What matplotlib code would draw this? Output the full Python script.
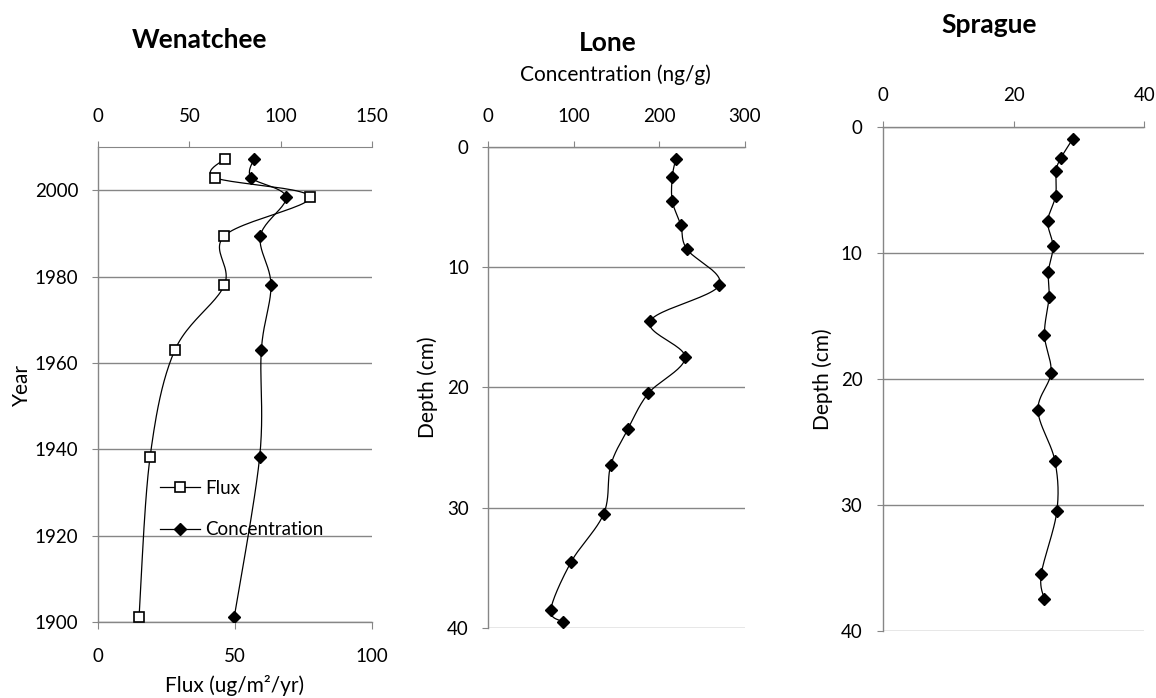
import numpy as np
import matplotlib
matplotlib.use("Agg")
import matplotlib.pyplot as plt
from matplotlib.lines import Line2D

plt.rcParams['font.family'] = ['Lato', 'DejaVu Sans']

# Wenatchee core
wen_year = [2007.3, 2002.9, 1998.4, 1989.4, 1978.0, 1962.9, 1938.2, 1901.2]
wen_flux = [46.2, 42.7, 77.4, 46.1, 46.1, 28.0, 19.0, 15.0]
wen_conc = [85.4, 83.9, 102.9, 88.9, 94.7, 89.4, 88.5, 74.6]

# Lone core
lone_depth = [1, 2.5, 4.5, 6.5, 8.5, 11.5, 14.5, 17.5, 20.5, 23.5, 26.5, 30.5, 34.5, 38.5, 39.5]
lone_conc = [219, 215, 215, 225, 232, 270, 189, 230, 187, 163, 143, 135, 97, 73, 87]

# Sprague core
spr_depth = [1, 2.5, 3.5, 5.5, 7.5, 9.5, 11.5, 13.5, 16.5, 19.5, 22.5, 26.5, 30.5, 35.5, 37.5]
spr_conc = [29.0, 27.2, 26.5, 26.4, 25.2, 26.0, 25.3, 25.4, 24.7, 25.7, 23.7, 26.3, 26.6, 24.2, 24.7]

GRAY = '#868686'
TICK_FS = 13.5
LABEL_FS = 15
TITLE_FS = 19

W, H = 1156, 698
fig = plt.figure(figsize=(W / 100, H / 100), dpi=100)


def box(left, top, right, bottom):
    # pixel box -> figure fraction
    return [left / W, 1 - bottom / H, (right - left) / W, (bottom - top) / H]


def smooth(ax, x, y, n=25):
    # Excel-like smoothed line (bezier through points), done in display space
    pts = ax.transData.transform(np.column_stack([x, y]))
    p = np.vstack([pts[0], pts, pts[-1]])
    t = np.linspace(0, 1, n)[:, None]
    segs = []
    for i in range(1, len(p) - 2):
        p0, p1, p2, p3 = p[i - 1], p[i], p[i + 1], p[i + 2]
        c1 = p1 + (p2 - p0) / 6
        c2 = p2 - (p3 - p1) / 6
        segs.append((1 - t) ** 3 * p1 + 3 * (1 - t) ** 2 * t * c1
                    + 3 * (1 - t) * t ** 2 * c2 + t ** 3 * p2)
    curve = ax.transData.inverted().transform(np.vstack(segs))
    return curve[:, 0], curve[:, 1]


def style(ax):
    ax.spines['right'].set_visible(False)
    for s in ['left', 'top', 'bottom']:
        ax.spines[s].set_color(GRAY)
        ax.spines[s].set_linewidth(1.0)
    ax.tick_params(axis='y', direction='out', length=4, color=GRAY,
                   labelsize=TICK_FS, pad=10)
    ax.grid(axis='y', color=GRAY, linewidth=1.0)
    ax.set_axisbelow(True)


diamond = dict(marker='D', markersize=6.5, color='black', linestyle='none', zorder=4)
square = dict(marker='s', markersize=7.7, markerfacecolor='white',
              markeredgecolor='black', markeredgewidth=1.2, linestyle='none', zorder=4)

# ---------------- Wenatchee ----------------
ax1 = fig.add_axes(box(98, 147, 372, 622))
ax1.set_ylim(1900, 2010)
ax1.set_xlim(0, 100)
ax1.set_yticks([1900, 1920, 1940, 1960, 1980, 2000])
ax1.set_xticks([0, 50, 100])
style(ax1)
ax1.spines['top'].set_visible(False)
ax1.tick_params(axis='x', direction='out', length=5, color=GRAY,
                labelsize=TICK_FS, pad=14)
ax1.set_xlabel('Flux (ug/m²/yr)', fontsize=LABEL_FS, labelpad=7)

ax1b = ax1.twiny()
ax1b.set_xlim(0, 150)
ax1b.set_xticks([0, 50, 100, 150])
ax1b.spines['right'].set_visible(False)
ax1b.spines['bottom'].set_visible(False)
ax1b.spines['left'].set_visible(False)
ax1b.spines['top'].set_color(GRAY)
ax1b.tick_params(axis='x', direction='out', length=4, color=GRAY,
                 labelsize=TICK_FS, pad=12)

xs, ys = smooth(ax1, wen_flux, wen_year)
ax1.plot(xs, ys, color='black', linewidth=0.9, zorder=3)
ax1.plot(wen_flux, wen_year, **square)
xs, ys = smooth(ax1b, wen_conc, wen_year)
ax1b.plot(xs, ys, color='black', linewidth=0.9, zorder=3)
ax1b.plot(wen_conc, wen_year, **diamond)
ax1b.set_ylim(1900, 2010)

fig.text(22 / W, 1 - 385 / H, 'Year', rotation=90, fontsize=LABEL_FS,
         ha='center', va='center')
fig.text(200 / W, 1 - 40 / H, 'Wenatchee', fontsize=TITLE_FS,
         fontweight='bold', ha='center', va='center')

handles = [Line2D([], [], color='black', linewidth=0.9, marker='s', markersize=7.7,
                  markerfacecolor='white', markeredgecolor='black', markeredgewidth=1.2),
           Line2D([], [], color='black', linewidth=0.9, marker='D', markersize=6.5)]
fig.legend(handles, ['Flux', 'Concentration'], loc='upper left',
           bbox_to_anchor=(160 / W, 1 - 480 / H), frameon=False, fontsize=TICK_FS,
           borderpad=0, borderaxespad=0, handlelength=2.13, handletextpad=0.27,
           labelspacing=1.3, numpoints=1)

# ---------------- Lone ----------------
ax2 = fig.add_axes(box(488.3, 147, 745, 627.7))
ax2.set_xlim(0, 300)
ax2.set_ylim(40, 0)
ax2.set_xticks([0, 100, 200, 300])
ax2.set_yticks([0, 10, 20, 30, 40])
style(ax2)
ax2.spines['bottom'].set_visible(False)
ax2.xaxis.tick_top()
ax2.tick_params(axis='x', direction='out', length=4, color=GRAY,
                labelsize=TICK_FS, pad=12)
xs, ys = smooth(ax2, lone_conc, lone_depth)
ax2.plot(xs, ys, color='black', linewidth=0.9, zorder=3)
ax2.plot(lone_conc, lone_depth, **diamond)

fig.text(428 / W, 1 - 387 / H, 'Depth (cm)', rotation=90, fontsize=LABEL_FS,
         ha='center', va='center')
fig.text(608 / W, 1 - 43 / H, 'Lone', fontsize=TITLE_FS,
         fontweight='bold', ha='center', va='center')
fig.text(615 / W, 1 - 75 / H, 'Concentration (ng/g)', fontsize=LABEL_FS,
         ha='center', va='center')

# ---------------- Sprague ----------------
ax3 = fig.add_axes(box(883.3, 126.7, 1144.3, 631))
ax3.set_xlim(0, 40)
ax3.set_ylim(40, 0)
ax3.set_xticks([0, 20, 40])
ax3.set_yticks([0, 10, 20, 30, 40])
style(ax3)
ax3.spines['bottom'].set_visible(False)
ax3.xaxis.tick_top()
ax3.tick_params(axis='x', direction='out', length=4, color=GRAY,
                labelsize=TICK_FS, pad=12)
ax3.tick_params(axis='y', pad=11)
xs, ys = smooth(ax3, spr_conc, spr_depth)
ax3.plot(xs, ys, color='black', linewidth=0.9, zorder=3)
ax3.plot(spr_conc, spr_depth, **diamond)

fig.text(823 / W, 1 - 379 / H, 'Depth (cm)', rotation=90, fontsize=LABEL_FS,
         ha='center', va='center')
fig.text(989 / W, 1 - 25 / H, 'Sprague', fontsize=TITLE_FS,
         fontweight='bold', ha='center', va='center')

for a in [ax1, ax1b, ax2, ax3]:
    for lab in a.get_xticklabels() + a.get_yticklabels():
        lab.set_clip_on(False)

fig.savefig('out.png', dpi=100)
